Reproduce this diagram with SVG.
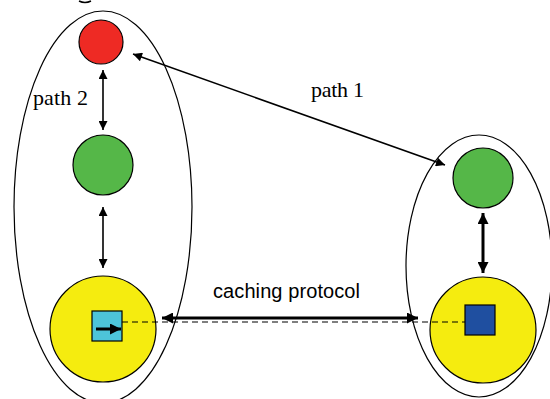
<svg xmlns="http://www.w3.org/2000/svg" width="550" height="399" viewBox="0 0 550 399">
<defs>
<style>
.ell{fill:none;stroke:#000;stroke-width:1.2}
.node{stroke:#000;stroke-width:1.2}
.thin{stroke:#000;stroke-width:1.6;fill:none}
.thick{stroke:#000;stroke-width:3;fill:none}
.dash{stroke:#000;stroke-width:1.2;stroke-dasharray:6 4;fill:none}
.serif{font-family:"Liberation Serif","Times New Roman",serif;font-size:22px;fill:#000}
.sans{font-family:"Liberation Sans",Arial,sans-serif;font-size:20px;fill:#000}
</style>
<marker id="ah" viewBox="0 0 10 10" refX="10" refY="5" markerUnits="userSpaceOnUse" markerWidth="10" markerHeight="9" orient="auto-start-reverse">
<path d="M0,0 L10,5 L0,10 z" fill="#000"/>
</marker>
<marker id="ahb" viewBox="0 0 10 10" refX="10" refY="5" markerUnits="userSpaceOnUse" markerWidth="11" markerHeight="11" orient="auto-start-reverse">
<path d="M0,0 L10,5 L0,10 z" fill="#000"/>
</marker>
</defs>
<rect width="550" height="399" fill="#fff"/>
<path d="M79,1 Q85,4 91,1" fill="none" stroke="#000" stroke-width="1.5"/>
<g id="group-left"><ellipse class="ell" cx="103" cy="207" rx="89" ry="196"/></g>
<g id="group-right"><ellipse class="ell" cx="479" cy="266" rx="73" ry="131"/></g>
<g id="red"><circle class="node" cx="101" cy="42" r="22" fill="#EE2A24"/></g>
<g id="green-left"><circle class="node" cx="103" cy="165" r="30" fill="#55B748"/></g>
<g id="yellow-left"><circle class="node" cx="103" cy="329" r="53" fill="#F5EC0F"/></g>
<g id="cyan-square"><rect class="node" x="92" y="311" width="30" height="30" fill="#4DC4D9"/></g>
<g id="green-right"><circle class="node" cx="483" cy="178" r="30" fill="#55B748"/></g>
<g id="yellow-right"><circle class="node" cx="483" cy="330" r="53" fill="#F5EC0F"/></g>
<g id="blue-square"><rect class="node" x="465" y="305" width="30" height="30" fill="#1F4FA0"/></g>
<g id="connectors">
<line class="thin" x1="103" y1="70" x2="103" y2="130" marker-start="url(#ah)" marker-end="url(#ah)"/>
<line class="thin" x1="103" y1="207" x2="103" y2="268" marker-start="url(#ah)" marker-end="url(#ah)"/>
<line class="thin" x1="133" y1="54" x2="445" y2="165" marker-start="url(#ah)" marker-end="url(#ah)"/>
<line class="thick" x1="483" y1="213" x2="483" y2="273" marker-start="url(#ahb)" marker-end="url(#ahb)"/>
<line class="dash" x1="122" y1="322" x2="465" y2="322"/>
<line class="thick" x1="162" y1="318" x2="418" y2="318" marker-start="url(#ahb)" marker-end="url(#ahb)"/>
<line class="thick" x1="96" y1="329" x2="121" y2="329" marker-end="url(#ahb)"/>
</g>
<text class="serif" x="311" y="97" textLength="53">path 1</text>
<text class="serif" x="33" y="105" textLength="55">path 2</text>
<text class="sans" x="213" y="298" textLength="147">caching protocol</text>
</svg>
